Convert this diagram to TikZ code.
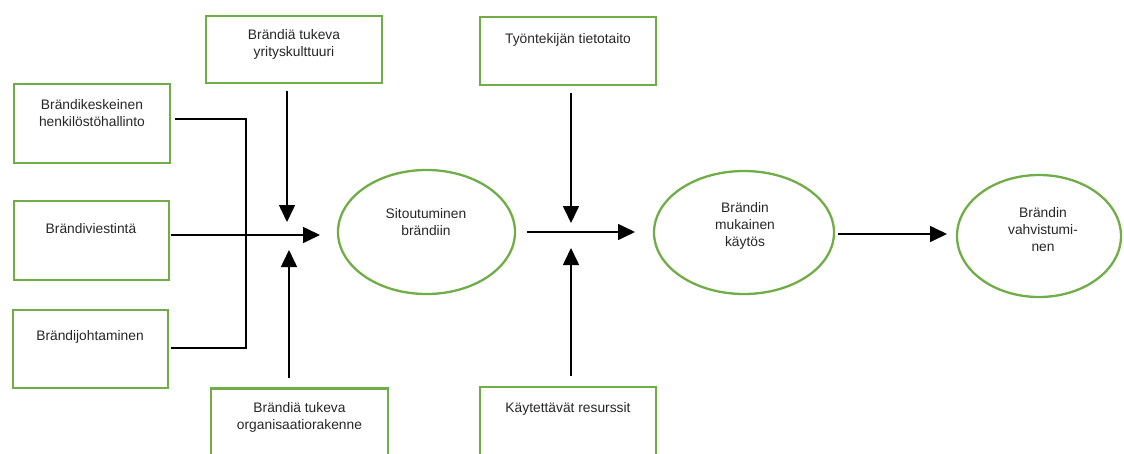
\documentclass[tikz,border=0pt]{standalone}
\usepackage{fontspec}
\setmainfont{Liberation Sans}
\usetikzlibrary{arrows.meta,calc,shapes.geometric}
\definecolor{boxgreen}{HTML}{70AD47}
\begin{document}
\begin{tikzpicture}[x=1pt,y=-1pt,
  box/.style={draw=boxgreen,line width=2.8pt,inner sep=0pt,outer sep=0pt},
  oval/.style={ellipse,draw=boxgreen,line width=2.3pt,inner sep=0pt,outer sep=0pt},
  txt/.style={font=\fontsize{13.8pt}{17pt}\selectfont,align=center,inner sep=0pt,text=black!85},
  conn/.style={line width=1.6pt,black},
  arr/.style={conn,-{Triangle[length=17pt,width=16pt]}}]
\useasboundingbox (0,0) rectangle (1124,453);
\clip (0,0) rectangle (1124,453);
% boxes
\node[box,minimum width=156,minimum height=79] (hr)   at (92,123.5) {};
\node[box,minimum width=155,minimum height=79] (comm) at (91.5,240.5) {};
\node[box,minimum width=155,minimum height=78] (lead) at (90.5,349) {};
\node[box,minimum width=176,minimum height=67] (cult) at (294,49.5) {};
\node[box,minimum width=177,minimum height=100] (org) at (299.5,438.5) {};
\node[box,minimum width=176,minimum height=68] (know) at (568,51) {};
\node[box,minimum width=176,minimum height=100] (res) at (568,437) {};
% ellipses
\node[oval,minimum width=177,minimum height=124] (e1) at (426.5,232) {};
\node[oval,minimum width=180,minimum height=123] (e2) at (744,232.5) {};
\node[oval,minimum width=164,minimum height=122] (e3) at (1039,236) {};
% texts
\node[txt] (thr)   at (92,113.5) {Brändikeskeinen\\henkilöstöhallinto};
\node[txt] (tcomm) at (91,229) {Brändiviestintä};
\node[txt] (tlead) at (90,337) {Brändijohtaminen};
\node[txt] (tcult) at (294,44) {Brändiä tukeva\\yrityskulttuuri};
\node[txt] (torg)  at (299.5,417.5) {Brändiä tukeva\\organisaatiorakenne};
\node[txt] (tknow) at (568,40) {Työntekijän tietotaito};
\node[txt] (tres)  at (568,409) {Käytettävät resurssit};
\node[txt] (te1)   at (426,222.5) {Sitoutuminen\\brändiin};
\node[txt] (te2)   at (745,226) {Brändin\\mukainen\\käytös};
\node[txt] (te3)   at (1043,229.5) {Brändin\\vahvistumi-\\nen};
% connector points
\coordinate (hrout)  at ($(hr.east)+(5,-4.5)$);
\coordinate (join)   at (246,348);
\coordinate (leadout) at ($(lead.east)+(3,-1)$);
\coordinate (commout) at ($(comm.east)+(2,-5.5)$);
\coordinate (tipA)   at (320,235);
\coordinate (cultout) at ($(cult.south)+(-7,8)$);
\coordinate (tipAt)  at (287,222);
\coordinate (orgout) at ($(org.north)+(-10.5,-11)$);
\coordinate (tipAb)  at (289,250);
\coordinate (e1out)  at ($(e1.east)+(12,0)$);
\coordinate (tipB)   at ($(e2.west)+(-19,-0.5)$);
\coordinate (knowout) at ($(know.south)+(3,8)$);
\coordinate (tipBt)  at (571,223);
\coordinate (resout) at ($(res.north)+(3,-11)$);
\coordinate (tipBb)  at (571,248);
\coordinate (e2out)  at ($(e2.east)+(4,1.5)$);
\coordinate (tipC)   at ($(e3.west)+(-10,-2)$);
% connectors
\draw[conn] (hrout) -| (join) -- (leadout);
\draw[arr] (commout) -- (tipA);
\draw[arr] (cultout) -- (tipAt);
\draw[arr] (orgout) -- (tipAb);
\draw[arr] (e1out) -- (tipB);
\draw[arr] (knowout) -- (tipBt);
\draw[arr] (resout) -- (tipBb);
\draw[arr] (e2out) -- (tipC);
\end{tikzpicture}
\end{document}
